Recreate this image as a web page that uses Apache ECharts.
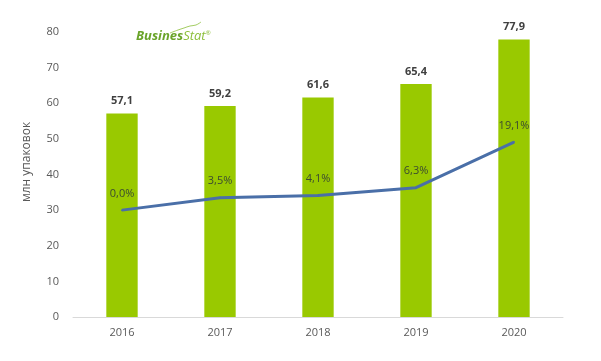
<!DOCTYPE html>
<html><head><meta charset="utf-8">
<script src="https://cdn.jsdelivr.net/npm/echarts@6/dist/echarts.min.js"></script>
<style>html,body{margin:0;padding:0;background:#fff}#c{width:601px;height:361px}</style>
</head><body><div id="c"></div>
<script>
const categories = ['2016','2017','2018','2019','2020'];
const volumes = [57.1, 59.2, 61.6, 65.4, 77.9];
const growth = [0.0, 3.5, 4.1, 6.3, 19.1];
const yTicks = [0,10,20,30,40,50,60,70,80];
const fmt = v => String(v.toFixed(1)).replace('.', ',');
const chart = echarts.init(document.getElementById('c'));
chart.setOption({
  animation: false,
  backgroundColor: '#fff',
  grid: {left: 73, right: 38, top: 32, bottom: 44},
  graphic: [{
    type: 'text', left: 136, top: 30,
    style: {
      rich: {
        a: {fill: '#6aa42a', fontSize: 13, fontWeight: 'bold', fontStyle: 'italic', fontFamily: 'Open Sans'},
        b: {fill: '#8cbf3a', fontSize: 13, fontStyle: 'italic', fontFamily: 'Open Sans'},
        r: {fill: '#8cbf3a', fontSize: 6, fontFamily: 'Open Sans', verticalAlign: 'top'}
      },
      text: '{a|Busines}{b|Stat}{r|®}'
    }
  }, {
    type: 'polyline', shape: {points: [[170,33],[178,30],[184,28],[190,26],[196,25],[201,22]], smooth: 0.4},
    style: {stroke: '#8cbf3a', lineWidth: 0.8, fill: null}
  }],
  xAxis: {
    type: 'category', data: categories,
    axisLine: {lineStyle: {color: '#d9d9d9'}},
    axisTick: {show: false},
    axisLabel: {color: '#595959', fontSize: 11, fontFamily: 'Open Sans', margin: 10}
  },
  yAxis: [{
    type: 'value', min: yTicks[0], max: yTicks[yTicks.length-1], interval: 10,
    name: 'млн упаковок', nameLocation: 'middle', nameGap: 40, nameRotate: 90,
    nameMoveOverlap: false,
    nameTextStyle: {color: '#595959', fontSize: 12, fontFamily: 'Open Sans', padding: [0, 0, 0, 25]},
    axisLine: {show: false}, axisTick: {show: false}, splitLine: {show: false},
    axisLabel: {color: '#595959', fontSize: 11, fontFamily: 'Open Sans', margin: 14}
  }, {
    type: 'value', min: -30, max: 50, show: false, splitLine: {show: false}
  }],
  series: [{
    type: 'bar', data: volumes, barWidth: '32%',
    itemStyle: {color: '#99c900'},
    label: {show: true, position: 'top', distance: 7, color: '#404040', fontWeight: 'bold', fontSize: 11, fontFamily: 'Open Sans', formatter: p => fmt(p.value)}
  }, {
    type: 'line', yAxisIndex: 1, data: growth, z: 5,
    symbol: 'circle', symbolSize: 2, showSymbol: true,
    itemStyle: {color: '#4a6fa8'},
    lineStyle: {color: '#4a6fa8', width: 3},
    label: {show: true, position: 'top', distance: 10, color: '#3b4a30', fontSize: 11, fontFamily: 'Open Sans', formatter: p => fmt(p.value) + '%'}
  }]
});
</script></body></html>
